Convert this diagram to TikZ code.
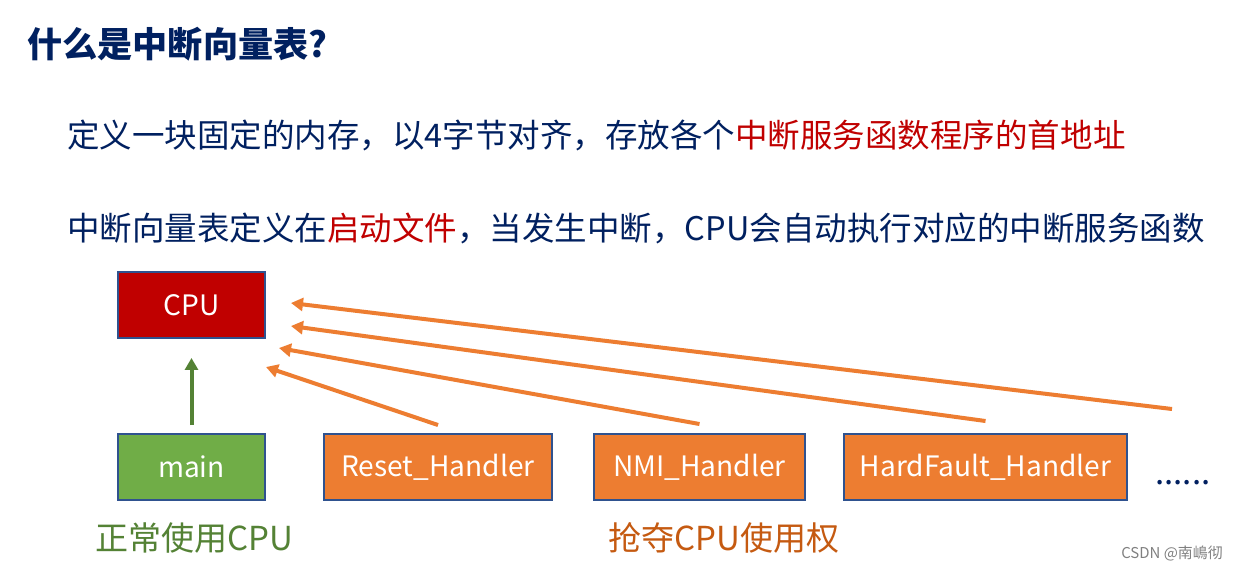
\documentclass[tikz,border=0pt]{standalone}
\usepackage{fontspec}
\setmainfont{Noto Sans CJK SC}
\usetikzlibrary{arrows.meta}
\definecolor{navy}{HTML}{002060}
\definecolor{darkred}{HTML}{C00000}
\definecolor{boxline}{HTML}{2F528F}
\definecolor{orangefill}{HTML}{ED7D31}
\definecolor{greenfill}{HTML}{70AD47}
\definecolor{greenline}{HTML}{548235}
\definecolor{orangetext}{HTML}{C55A11}

\begin{document}
\begin{tikzpicture}[x=0.02cm,y=-0.02cm,
  blk/.style={draw=boxline, line width=0.04cm, minimum height=1.32cm, inner sep=0pt, text=white, font=\fontsize{16}{16}\selectfont},
  txt/.style={inner sep=0pt, text=navy, font=\fontsize{18.8}{18.8}\selectfont},
  orangearr/.style={draw=orangefill, line width=0.08cm, -{Triangle[length=0.24cm,width=0.26cm]}},
  greenarr/.style={draw=greenline, line width=0.08cm, -{Triangle[length=0.24cm,width=0.26cm]}}]
\useasboundingbox[fill=white] (0,0) rectangle (1237,569);
%TEXT
\node[txt, anchor=west, font=\fontsize{20}{20}\selectfont\bfseries] (title) at (27,44) {什么是中断向量表?};
\node[txt, anchor=west, font=\fontsize{18.5}{18.5}\selectfont] (line1) at (67,135) {定义一块固定的内存，以4字节对齐，存放各个\textcolor{darkred}{中断服务函数程序的首地址}};
\node[txt, anchor=west, font=\fontsize{18.5}{18.5}\selectfont] (line2) at (67,228) {中断向量表定义在\textcolor{darkred}{启动文件}，当发生中断，CPU会自动执行对应的中断服务函数};
%BOXES
\node[blk, fill=darkred, minimum width=2.94cm] (cpu) at (191.5,305) {CPU};
\node[blk, fill=greenfill, minimum width=2.94cm] (main) at (191.5,467) {main};
\node[blk, fill=orangefill, minimum width=4.56cm] (reset) at (438,467) {Reset\_Handler};
\node[blk, fill=orangefill, minimum width=4.22cm] (nmi) at (699.5,467) {NMI\_Handler};
\node[blk, fill=orangefill, minimum width=5.66cm] (hardfault) at (985.5,467) {HardFault\_Handler};
\node[txt, anchor=base west] (more) at (1155,484) {......};
%LABELS
\node[txt, text=greenline] (normal) at (194.5,538) {正常使用CPU};
\node[txt, text=orangetext] (grab) at (724,538) {抢夺CPU使用权};
\node[inner sep=0pt, text=gray, font=\fontsize{8.5}{8.5}\selectfont] (mark) at (1172,553) {CSDN @南嶋彻};
%ARROWS
\coordinate (t1) at (266,367);
\coordinate (t2) at (279,348);
\coordinate (t3) at (291,326);
\coordinate (t4) at (291,303);
\coordinate (m0) at (1172,409);
\draw[greenarr] ([yshift=0.16cm]main.north) -- ([yshift=-0.38cm]cpu.south);
\draw[orangearr] ([yshift=0.16cm]reset.north) -- (t1);
\draw[orangearr] ([yshift=0.18cm]nmi.north) -- (t2);
\draw[orangearr] ([yshift=0.24cm]hardfault.north) -- (t3);
\draw[orangearr] (m0) -- (t4);
\end{tikzpicture}
\end{document}
